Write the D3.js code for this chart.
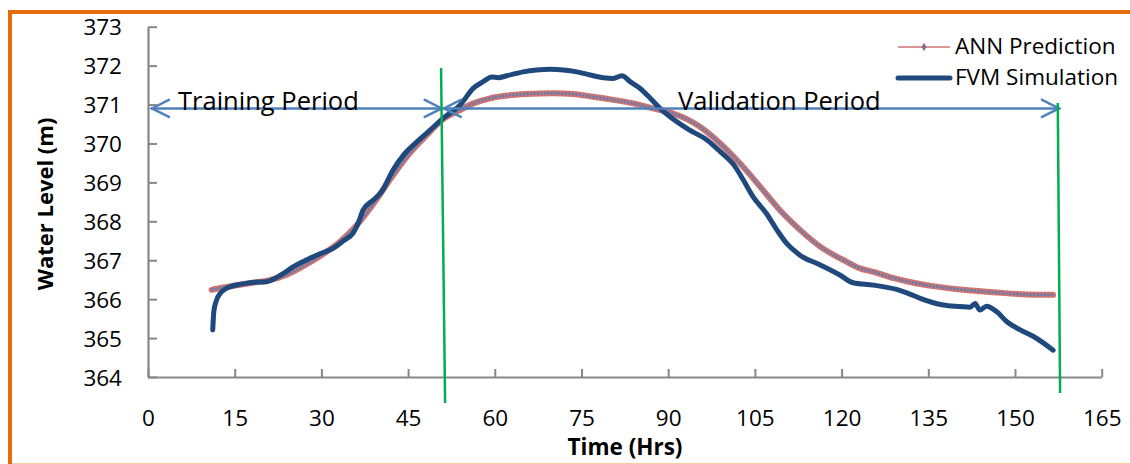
<!DOCTYPE html>
<html>
<head>
<meta charset="utf-8">
<script src="https://cdn.jsdelivr.net/npm/d3@7"></script>
<style>
body{margin:0;background:#fff;}
text{font-family:"Open Sans",sans-serif;fill:#000;}
</style>
</head>
<body>
<div id="chart"></div>
<script>
// values (time in hrs, level in m)
var fvmTime  = [11.2,11.4,11.8,12.5,13.5,15.9,18,20.5,23,25.1,28,30,32.1,33.8,35.5,36.5,37.2,39,40.4,42.4,44.2,46.5,48.8,51.1,54,56.3,58,59.5,60.6,62.1,64.9,67.2,69.6,71.9,74.2,76.5,78.8,80.5,82,83.4,85.1,86.9,88.6,90.9,93.5,96.7,99,101.6,103,104.7,107,108.8,110.5,112.8,116.3,119.7,122,125.5,129.5,131.5,133.6,137.6,140.5,142.2,143.1,143.9,145.1,146.8,148.6,150.9,153.2,156.6];
var fvmLevel = [365.21,365.70,365.95,366.15,366.27,366.38,366.43,366.45,366.62,366.83,367.05,367.18,367.31,367.50,367.70,368.00,368.29,368.55,368.76,369.32,369.70,370.04,370.34,370.65,370.99,371.42,371.59,371.71,371.69,371.74,371.84,371.89,371.91,371.89,371.84,371.76,371.69,371.67,371.74,371.59,371.42,371.16,370.90,370.62,370.36,370.09,369.79,369.40,369.06,368.63,368.20,367.78,367.43,367.13,366.88,366.62,366.42,366.36,366.25,366.15,366.02,365.85,365.81,365.79,365.89,365.72,365.82,365.68,365.42,365.21,365.04,364.69];

var annTime  = [11,13,15,18,21,24,27,30,33,36,39,42,45,48,51,54,56.3,59.2,62.1,65.5,70.1,73.6,77,80.5,84,87.4,90.9,95.5,99,102.4,105.9,109.3,112.8,116.3,120.9,123.2,125.5,129,134.7,140.5,146.2,152,156.6];
var annLevel = [366.24,366.30,366.35,366.42,366.49,366.63,366.86,367.13,367.45,367.88,368.45,369.10,369.70,370.18,370.62,370.86,371.03,371.16,371.23,371.27,371.29,371.27,371.20,371.12,371.03,370.90,370.77,370.43,370.00,369.49,368.89,368.29,367.78,367.35,366.96,366.79,366.70,366.54,366.36,366.25,366.18,366.12,366.11];

var xTicks = [0,15,30,45,60,75,90,105,120,135,150,165];
var yTicks = [364,365,366,367,368,369,370,371,372,373];

// period markers (data units)
var splitTimes = [[50.7,371.94,51.4,363.33],[157.4,371.04,157.8,363.59]];
var periodArrows = [{from:0.5,to:51,label:"Training Period",lx:5.2},{from:51,to:157.8,label:"Validation Period",lx:91.7}];
var arrowLevel = 370.9;

var W=1130,H=464;
var svg=d3.select("#chart").append("svg").attr("width",W).attr("height",H);
svg.append("rect").attr("width",W).attr("height",H).attr("fill","#fff");

var x=d3.scaleLinear().domain([0,165]).range([148,1101.7]);
var y=d3.scaleLinear().domain([364,373]).range([377,26.7]);

// orange frame
svg.append("line").attr("x1",8).attr("x2",W).attr("y1",12).attr("y2",12).attr("stroke","#E46C0A").attr("stroke-width",4);
svg.append("line").attr("x1",10).attr("x2",10).attr("y1",10).attr("y2",H).attr("stroke","#E46C0A").attr("stroke-width",4);
svg.append("line").attr("x1",12).attr("x2",W).attr("y1",463.5).attr("y2",463.5).attr("stroke","#F9CBA3").attr("stroke-width",1);

// axes
var axisCol="#878787";
var gx=svg.append("g").attr("transform","translate(0,"+y(364)+")")
	.call(d3.axisBottom(x).tickValues(xTicks).tickSizeInner(-8).tickSizeOuter(0).tickPadding(33));
var gy=svg.append("g").attr("transform","translate("+x(0)+",0)")
	.call(d3.axisLeft(y).tickValues(yTicks).tickSizeInner(-9).tickSizeOuter(0).tickPadding(26));
[gx,gy].forEach(function(g){
	g.select(".domain").attr("stroke",axisCol).attr("stroke-width",2.2);
	g.selectAll(".tick line").attr("stroke",axisCol).attr("stroke-width",2);
	g.selectAll(".tick text").attr("font-family","Open Sans").attr("font-size",22.5).attr("fill","#000");
});
gy.selectAll(".tick text").attr("dy","0.36em");
gx.selectAll(".tick text").attr("dy","0.72em");

svg.append("text").attr("x",625).attr("y",455).attr("text-anchor","middle")
	.attr("font-size",22.5).attr("font-weight","bold").text("Time (Hrs)");
svg.append("text").attr("transform","translate(53,204) rotate(-90)").attr("text-anchor","middle")
	.attr("font-size",22).attr("font-weight","bold").text("Water Level (m)");

// series
var fvm=fvmTime.map(function(t,i){return [t,fvmLevel[i]];});
var ann=annTime.map(function(t,i){return [t,annLevel[i]];});
var line=d3.line().x(d=>x(d[0])).y(d=>y(d[1])).curve(d3.curveMonotoneX);

svg.append("path").datum(ann).attr("d",line).attr("fill","none")
	.attr("stroke","#C0504D").attr("stroke-width",6).attr("stroke-opacity",0.8).attr("stroke-linecap","round");
svg.append("path").datum(ann).attr("d",line).attr("fill","none")
	.attr("stroke","#4F81BD").attr("stroke-width",2.4).attr("stroke-dasharray","2,1.5");

svg.append("path").datum(fvm).attr("d",line).attr("fill","none")
	.attr("stroke","#1F497D").attr("stroke-width",5).attr("stroke-linecap","round").attr("stroke-linejoin","round");

// period arrows
var arrowCol="#4F81BD";
periodArrows.forEach(function(a){
	var x1=x(a.from),x2=x(a.to),yy=y(arrowLevel);
	svg.append("line").attr("x1",x1).attr("x2",x2).attr("y1",yy).attr("y2",yy).attr("stroke",arrowCol).attr("stroke-width",2.4);
	svg.append("path").attr("d","M"+(x1+19)+","+(yy-9)+"L"+(x1+1)+","+yy+"L"+(x1+19)+","+(yy+9))
		.attr("fill","none").attr("stroke",arrowCol).attr("stroke-width",2.4);
	svg.append("path").attr("d","M"+(x2-19)+","+(yy-9)+"L"+(x2-1)+","+yy+"L"+(x2-19)+","+(yy+9))
		.attr("fill","none").attr("stroke",arrowCol).attr("stroke-width",2.4);
	svg.append("text").attr("x",x(a.lx)).attr("y",yy+1.5).attr("font-size",25.5).text(a.label);
});

splitTimes.forEach(function(s){
	svg.append("line").attr("x1",x(s[0])).attr("y1",y(s[1])).attr("x2",x(s[2])).attr("y2",y(s[3]))
		.attr("stroke","#00B050").attr("stroke-width",2.5);
});

// legend
var lg=svg.append("g");
lg.append("line").attr("x1",898).attr("x2",950).attr("y1",47).attr("y2",47).attr("stroke","#C0504D").attr("stroke-width",1.6).attr("stroke-opacity",0.8);
lg.append("path").attr("d",d3.symbol(d3.symbolDiamond,14)()).attr("transform","translate(924,47)")
	.attr("fill","#4F81BD").attr("stroke","#C0504D").attr("stroke-width",0.8);
lg.append("line").attr("x1",898).attr("x2",950).attr("y1",78).attr("y2",78).attr("stroke","#1F497D").attr("stroke-width",5).attr("stroke-linecap","round");
lg.append("text").attr("x",955).attr("y",54).attr("font-size",22.5).text("ANN Prediction");
lg.append("text").attr("x",955).attr("y",85).attr("font-size",22.5).text("FVM Simulation");
</script>
</body>
</html>
